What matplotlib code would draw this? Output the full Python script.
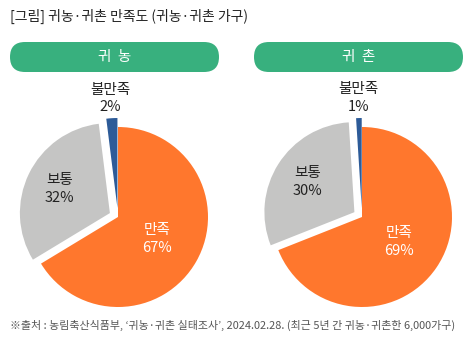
import numpy as np
import matplotlib
matplotlib.use('Agg')
import matplotlib.pyplot as plt
from matplotlib.patches import FancyBboxPatch

plt.rcParams['font.family'] = ['Noto Sans CJK KR', 'DejaVu Sans']

# data
categories = ['만족', '보통', '불만족']
farm_values = [67, 32, 2]      # 귀농
rural_values = [69, 30, 1]     # 귀촌
panel_titles = ['귀  농', '귀  촌']
colors = ['#FF772D', '#C5C5C4', '#2D5B98']
title = '[그림] 귀농·귀촌 만족도 (귀농·귀촌 가구)'
source = '※출처 : 농림축산식품부, ‘귀농·귀촌 실태조사’, 2024.02.28. (최근 5년 간 귀농·귀촌한 6,000가구)'

W, H = 469, 347
fig = plt.figure(figsize=(W / 100, H / 100), dpi=100)

# background axes in pixel coords
bg = fig.add_axes([0, 0, 1, 1])
bg.set_xlim(0, W)
bg.set_ylim(H, 0)
bg.axis('off')

bg.text(10, 16, title, fontsize=10, color='#222222', va='center', ha='left')
bg.text(10, 325, source, fontsize=7.9, color='#555555', va='center', ha='left')

pill_x = [10, 254]
for px, t in zip(pill_x, panel_titles):
    pill = FancyBboxPatch((px, 42), 209, 30,
                          boxstyle='round,pad=0,rounding_size=15',
                          fc='#38B07E', ec='none')
    bg.add_patch(pill)
    bg.text(px + 104.5, 57, t, fontsize=10.5, color='white', ha='center',
            va='center', fontweight='medium')

R = 90.0
label_r = [0.5, 0.62, 1.22]
label_col = ['white', '#222222', '#222222']

def draw_pie(cx, cy, values):
    size = 230
    ax = fig.add_axes([(cx - size / 2) / W, (H - cy - size / 2) / H, size / W, size / H])
    lim = size / 2 / R
    wedges, _ = ax.pie(values, colors=colors, startangle=90, counterclock=False,
                       explode=[0, 0.1, 0.1], radius=1,
                       wedgeprops=dict(linewidth=0))
    ax.set_xlim(-lim, lim)
    ax.set_ylim(-lim, lim)
    ax.set_aspect('equal')
    ax.axis('off')
    for w, cat, v, r, c in zip(wedges, categories, values, label_r, label_col):
        ang = np.deg2rad((w.theta1 + w.theta2) / 2)
        x = w.center[0] + r * np.cos(ang)
        y = w.center[1] + r * np.sin(ang)
        ax.text(x, y, '%s\n%d%%' % (cat, v), ha='center', va='center',
                fontsize=10.5, color=c, linespacing=1.35)

draw_pie(118, 217, farm_values)
draw_pie(362, 217, rural_values)

fig.savefig('out.png', dpi=100)
